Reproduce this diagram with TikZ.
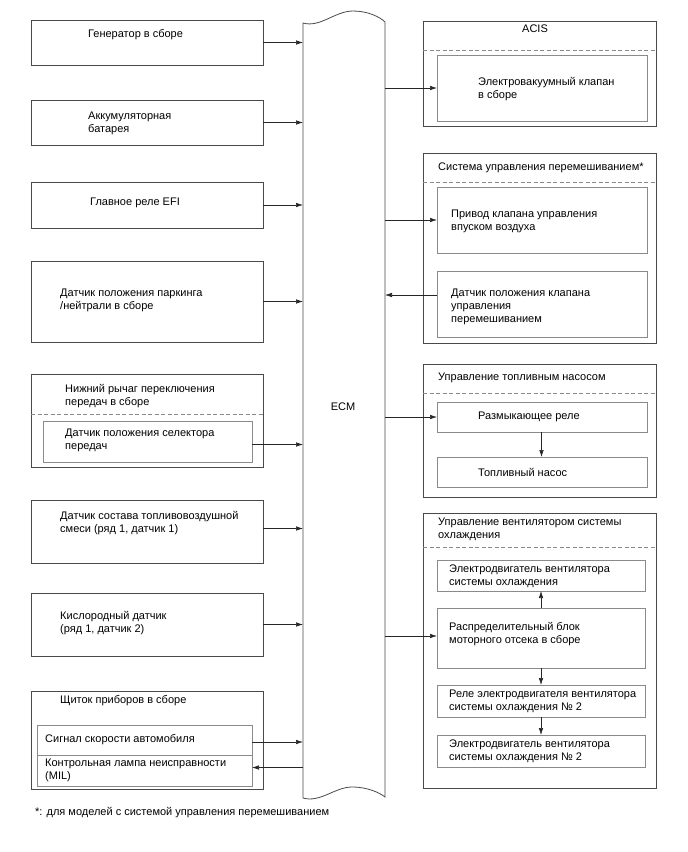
\documentclass[tikz,border=0pt]{standalone}
\usepackage{fontspec}
\setmainfont{Liberation Sans}
\usetikzlibrary{arrows.meta}
\newcommand\dfont{\fontsize{11pt}{13pt}\selectfont}
\definecolor{outerc}{HTML}{4A4A4A}
\definecolor{innerc}{HTML}{8A8A8A}
\begin{document}
\begin{tikzpicture}[x=1pt,y=-1pt,
  outerbox/.style={draw=outerc,line width=0.8pt,inner sep=0pt,outer sep=0pt,anchor=north west},
  innerbox/.style={draw=innerc,line width=0.7pt,inner sep=0pt,outer sep=0pt,anchor=north west},
  lbl/.style={font=\dfont,align=left,anchor=west,inner sep=0pt,text=black},
  sep/.style={draw=innerc,line width=0.7pt,dash pattern=on 4pt off 2.5pt},
  arr/.style={draw=black!85,line width=0.6pt,-{Latex[length=7pt,width=4.5pt]}},
  ecmline/.style={draw=outerc,line width=0.8pt}]
\useasboundingbox (0,0) rectangle (688,852);

% ---------- ECM ----------
\node[inner sep=0pt,outer sep=0pt,minimum width=82pt,minimum height=775pt,anchor=north west] (ecm) at (303,23) {};
\node[font=\dfont,inner sep=0pt] (ecmt) at (343,407) {ECM};
\draw[ecmline] (303,23) -- (303,798)
  .. controls (320,803) and (335,787) .. (352,787)
  .. controls (368,787) and (380,793) .. (385,797)
  -- (385,22)
  .. controls (380,17) and (368,11) .. (353,11)
  .. controls (335,11) and (320,28) .. (303,23) -- cycle;

% ---------- left column ----------
\node[outerbox,minimum width=232pt,minimum height=45pt] (gen) at (31,20) {};
\node[lbl] (gent) at (88,35) {Генератор в сборе};

\node[outerbox,minimum width=232pt,minimum height=45pt] (bat) at (31,100) {};
\node[lbl] (batt) at (88,123) {Аккумуляторная\\батарея};

\node[outerbox,minimum width=232pt,minimum height=46pt] (efi) at (31,182) {};
\node[lbl] (efit) at (90,203) {Главное реле EFI};

\node[outerbox,minimum width=232pt,minimum height=81pt] (pn) at (31,261) {};
\node[lbl] (pnt) at (60,300) {Датчик положения паркинга\\/нейтрали в сборе};

\node[outerbox,minimum width=232pt,minimum height=93pt] (shift) at (31,374) {};
\node[lbl] (shiftt) at (65,396) {Нижний рычаг переключения\\передач в сборе};
\draw[sep] (31,414) -- (263,414);
\node[innerbox,minimum width=209pt,minimum height=41pt] (sel) at (43,421) {};
\node[lbl] (selt) at (65,440) {Датчик положения селектора\\передач};

\node[outerbox,minimum width=232pt,minimum height=63pt] (afs) at (31,500) {};
\node[lbl] (afst) at (60,523) {Датчик состава топливовоздушной\\смеси (ряд 1, датчик 1)};

\node[outerbox,minimum width=232pt,minimum height=63pt] (oxy) at (31,593) {};
\node[lbl] (oxyt) at (60,623) {Кислородный датчик\\(ряд 1, датчик 2)};

\node[outerbox,minimum width=232pt,minimum height=98pt] (meter) at (31,691) {};
\node[lbl] (metert) at (60,701) {Щиток приборов в сборе};
\node[innerbox,minimum width=215pt,minimum height=30pt] (sig) at (37,725) {};
\node[lbl] (sigt) at (45,740) {Сигнал скорости автомобиля};
\node[innerbox,minimum width=215pt,minimum height=31pt] (mil) at (37,755) {};
\node[lbl] (milt) at (45,770) {Контрольная лампа неисправности\\(MIL)};

% ---------- right column ----------
\node[outerbox,minimum width=233pt,minimum height=105pt] (acis) at (423,21) {};
\node[font=\dfont,inner sep=0pt] (acist) at (535,29) {ACIS};
\draw[sep] (423,50) -- (656,50);
\node[innerbox,minimum width=210pt,minimum height=66pt] (vsv) at (437,55) {};
\node[lbl] (vsvt) at (478,89) {Электровакуумный клапан\\в сборе};

\node[outerbox,minimum width=233pt,minimum height=190pt] (mix) at (423,153) {};
\node[lbl] (mixt) at (438,168) {Система управления перемешиванием*};
\draw[sep] (423,182) -- (656,182);
\node[innerbox,minimum width=210pt,minimum height=66pt] (act) at (437,187) {};
\node[lbl] (actt) at (451,221) {Привод клапана управления\\впуском воздуха};
\node[innerbox,minimum width=210pt,minimum height=66pt] (pos) at (437,271) {};
\node[lbl] (post) at (451,307) {Датчик положения клапана\\управления\\перемешиванием};

\node[outerbox,minimum width=233pt,minimum height=133pt] (fuel) at (423,364) {};
\node[lbl] (fuelt) at (438,378) {Управление топливным насосом};
\draw[sep] (423,393) -- (656,393);
\node[innerbox,minimum width=210pt,minimum height=30pt] (cor) at (437,402) {};
\node[lbl] (cort) at (478,417) {Размыкающее реле};
\node[innerbox,minimum width=210pt,minimum height=30pt] (pump) at (437,457) {};
\node[lbl] (pumpt) at (478,472) {Топливный насос};

\node[outerbox,minimum width=233pt,minimum height=275pt] (fan) at (423,513) {};
\node[lbl] (fant) at (438,529) {Управление вентилятором системы\\охлаждения};
\draw[sep] (423,547) -- (656,547);
\node[innerbox,minimum width=208pt,minimum height=31pt] (fm1) at (437,560) {};
\node[lbl] (fm1t) at (449,576) {Электродвигатель вентилятора\\системы охлаждения};
\node[innerbox,minimum width=208pt,minimum height=60pt] (jb) at (437,608) {};
\node[lbl] (jbt) at (449,634) {Распределительный блок\\моторного отсека в сборе};
\node[innerbox,minimum width=208pt,minimum height=32pt] (fr2) at (437,685) {};
\node[lbl] (fr2t) at (449,701) {Реле электродвигателя вентилятора\\системы охлаждения № 2};
\node[innerbox,minimum width=208pt,minimum height=32pt] (fm2) at (437,735) {};
\node[lbl] (fm2t) at (449,751) {Электродвигатель вентилятора\\системы охлаждения № 2};

% footnote
\node[lbl] (note) at (35,813) {*: для моделей с системой управления перемешиванием};

% ---------- connectors ----------
\draw[arr] (gen.east) -- (gen.east -| ecm.west);
\draw[arr] (bat.east) -- (bat.east -| ecm.west);
\draw[arr] (efi.east) -- (efi.east -| ecm.west);
\draw[arr] (pn.east) -- (pn.east -| ecm.west);
\draw[arr] ([yshift=-3pt]sel.east) -- ([yshift=-3pt]sel.east -| ecm.west);
\draw[arr] ([yshift=3pt]afs.east) -- ([yshift=3pt]afs.east -| ecm.west);
\draw[arr] (oxy.east) -- (oxy.east -| ecm.west);
\draw[arr] ([yshift=-2pt]sig.east) -- ([yshift=-2pt]sig.east -| ecm.west);
\draw[arr] ([yshift=3pt]mil.east -| ecm.west) -- ([yshift=3pt]mil.east);

\draw[arr] (vsv.west -| ecm.east) -- (vsv.west);
\draw[arr] (act.west -| ecm.east) -- (act.west);
\draw[arr] ([yshift=9pt]pos.west) -- ([yshift=9pt]pos.west -| ecm.east);
\draw[arr] (cor.west -| ecm.east) -- (cor.west);
\draw[arr] ([yshift=2pt]jb.west -| ecm.east) -- ([yshift=2pt]jb.west);

\draw[arr] ([xshift=-0.5pt]cor.south) -- ([xshift=-0.5pt]pump.north);
\draw[arr] (jb.north) -- (fm1.south);
\draw[arr] (jb.south) -- (fr2.north);
\draw[arr] (fr2.south) -- (fm2.north);
\end{tikzpicture}
\end{document}
